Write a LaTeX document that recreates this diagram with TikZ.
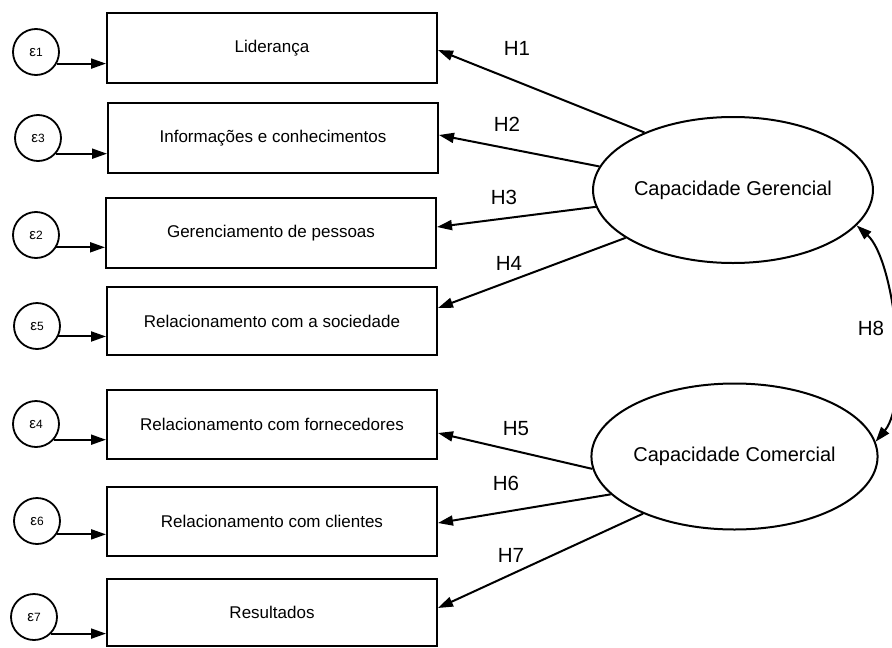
\documentclass[tikz,border=0pt]{standalone}
\usepackage{fontspec}
\setmainfont{Liberation Sans}
\usetikzlibrary{arrows.meta,shapes.geometric}
\newcommand{\epsl}[1]{{\fontsize{15}{16}\selectfont ε}{\fontsize{12}{14}\selectfont #1}}
\begin{document}
\begin{tikzpicture}[x=1pt,y=-1pt,
  box/.style={draw,line width=2pt,minimum width=330pt,inner sep=0pt,font=\fontsize{17}{20}\selectfont},
  err/.style={draw,circle,line width=1.8pt,minimum size=46pt,inner sep=0pt},
  lat/.style={draw,ellipse,line width=2pt,minimum width=239pt,minimum height=146pt,inner sep=0pt,font=\fontsize{20}{24}\selectfont},
  tip/.tip={Triangle[length=15pt,width=10pt]},
  arr/.style={line width=2pt,-tip},
  hlab/.style={font=\fontsize{20.5}{24}\selectfont,inner sep=0pt}]
\useasboundingbox (0,0) rectangle (892,648);
% boxes
\node[box,minimum height=70pt] (b1) at (272,48) {Liderança};
\node[box,minimum height=70pt] (b2) at (273,138) {Informações e conhecimentos};
\node[box,minimum height=70pt] (b3) at (271,233) {Gerenciamento de pessoas};
\node[box,minimum height=68pt] (b4) at (272,321) {Relacionamento com a sociedade};
\node[box,minimum height=69pt] (b5) at (272,424.5) {Relacionamento com fornecedores};
\node[box,minimum height=69pt] (b6) at (272,521.5) {Relacionamento com clientes};
\node[box,minimum height=67pt] (b7) at (272,612.5) {Resultados};
% error terms
\node[err] (e1) at (36,52) {\epsl{1}};
\node[err] (e3) at (38,138) {\epsl{3}};
\node[err] (e2) at (36,235) {\epsl{2}};
\node[err] (e5) at (37,326) {\epsl{5}};
\node[err] (e4) at (36,424) {\epsl{4}};
\node[err] (e6) at (37,521) {\epsl{6}};
\node[err] (e7) at (34,617) {\epsl{7}};
\draw[arr] (e1.-29) -- (e1.-29 -| b1.west);
\draw[arr] (e3.-41) -- (e3.-41 -| b2.west);
\draw[arr] (e2.-31) -- (e2.-31 -| b3.west);
\draw[arr] (e5.-26) -- (e5.-26 -| b4.west);
\draw[arr] (e4.-41) -- (e4.-41 -| b5.west);
\draw[arr] (e6.-34) -- (e6.-34 -| b6.west);
\draw[arr] (e7.-44) -- (e7.-44 -| b7.west);
% latent variables
\node[lat] (g) at (733,190) {Capacidade Gerencial};
\node[lat] (c) at (734.5,456.5) {Capacidade Comercial};
% paths
\draw[arr] (g.147) -- ([yshift=-2pt]b1.east);
\draw[arr] (g.170) -- ([yshift=3pt]b2.east);
\draw[arr] (g.187) -- ([yshift=6pt]b3.east);
\draw[arr] (g.204) -- ([yshift=13pt]b4.east);
\draw[arr] (c.185) -- ([yshift=-8.5pt]b5.east);
\draw[arr] (c.197) -- ([yshift=-1.5pt]b6.east);
\draw[arr] (c.212) -- ([yshift=4.5pt]b7.east);
\draw[line width=2pt,tip-tip] (g.-16) .. controls (895,260) and (910,400) .. (c.6);
% labels
\node[hlab] (h1) at (517,48) {H1};
\node[hlab] (h2) at (507,124) {H2};
\node[hlab] (h3) at (504,197) {H3};
\node[hlab] (h4) at (509,263) {H4};
\node[hlab] (h5) at (516,429) {H5};
\node[hlab] (h6) at (506,483) {H6};
\node[hlab] (h7) at (511,555) {H7};
\node[hlab] (h8) at (871,328) {H8};
\end{tikzpicture}
\end{document}
